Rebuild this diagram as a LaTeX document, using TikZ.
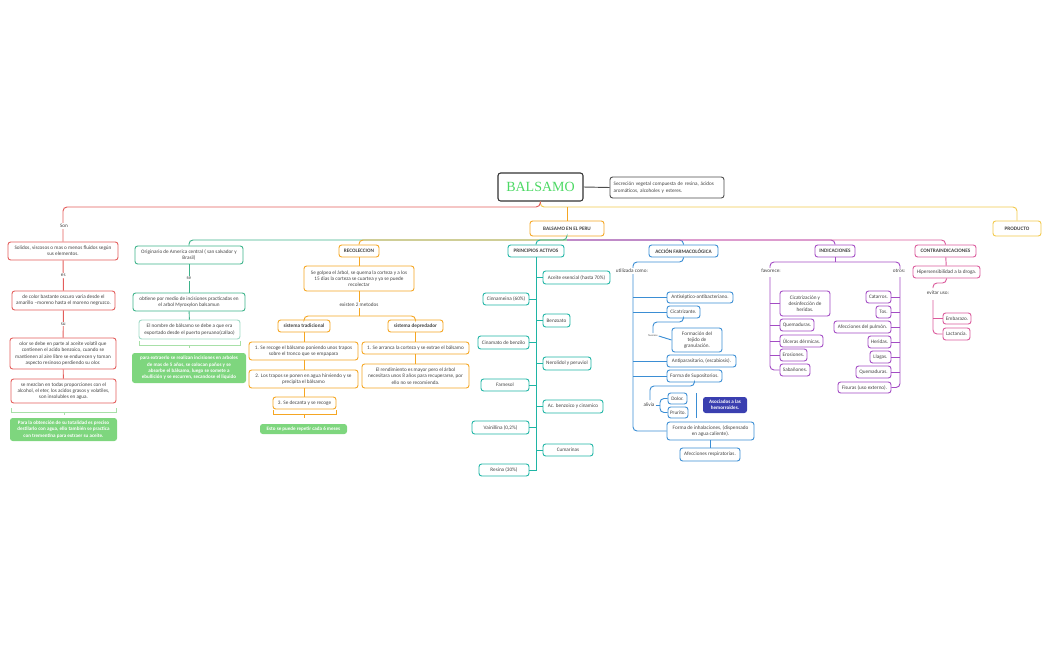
\documentclass[tikz,border=0pt]{standalone}
\usepackage{fontspec}
\setmainfont{Carlito}
\newfontfamily\serf{Liberation Serif}
\definecolor{cred}{HTML}{E35D5B}
\definecolor{cgr}{HTML}{3DB38A}
\definecolor{cor}{HTML}{F5A623}
\definecolor{ctl}{HTML}{1FB5A5}
\definecolor{cbl}{HTML}{3B8ED4}
\definecolor{cpu}{HTML}{A34CC4}
\definecolor{cpk}{HTML}{DB5B9C}
\definecolor{cye}{HTML}{F2C94C}
\definecolor{cfill}{HTML}{7ED67E}
\definecolor{clg}{HTML}{A8E0A8}
\definecolor{cdb}{HTML}{3A3FB0}
\definecolor{ctx}{HTML}{444444}
\definecolor{cbal}{HTML}{4CD964}
\newcommand\bx[7]{\node[box,draw=#6,minimum width={(#4-#2)*0.75pt},minimum height={(#5-#3)*0.75pt}] (#1) at ({(#2+#4)/2},{(#3+#5)/2}) {#7};}
\newcommand\fb[7]{\node[box,fill=#6,text=white,font=\fontsize{3.8}{4.7}\selectfont\bfseries,minimum width={(#4-#2)*0.75pt},minimum height={(#5-#3)*0.75pt}] (#1) at ({(#2+#4)/2},{(#3+#5)/2}) {#7};}
\begin{document}
\begin{tikzpicture}[x=0.75pt,y=-0.75pt,
 box/.style={rounded corners=2pt,line width=0.7pt,fill=white,align=center,inner sep=0.5pt,text=ctx,font=\fontsize{3.9}{4.7}\selectfont},
 lab/.style={fill=white,inner sep=0.6pt,text=ctx,font=\fontsize{3.9}{4.7}\selectfont},
 ln/.style={line width=0.7pt},
 rc/.style={rounded corners=3pt}]
\useasboundingbox (0,0) rectangle (1050,650);
% top
\node[box,draw=black!80,line width=0.8pt,minimum width=63.75pt,minimum height=21pt,text=cbal,font=\serf\fontsize{10.5}{12}\selectfont] (bal) at (540.5,187) {BALSAMO};
\node[box,draw=black!70,align=left,minimum width=85.5pt,minimum height=15.75pt,text width=80pt] (desc) at (667,187.5) {Secreción vegetal compuesta de resina, ácidos aromáticos, alcoholes y esteres.};
\draw[ln,black!70] (bal.east) -- (desc.west);
\coordinate (j0) at (540,207);
\coordinate (j1) at (567,240);
\bx{peru}{530}{221}{604}{236}{cor}{\bfseries BALSAMO EN EL PERU}
\bx{prod}{993}{221}{1041}{236}{cye}{\bfseries PRODUCTO}
\draw[ln,cye,rc] (bal.south) -- (j0) -| (prod.north);
\draw[ln,cor,rc] (567,207) -- (peru.north);
% column 1
\bx{a1}{8}{242}{118}{260}{cred}{Solidos, viscosos o mas o menos fluidos según\\sus elementos.}
\bx{a2}{12}{291}{115}{310}{cred}{de color bastante oscuro  varia desde el\\amarillo –moreno hasta el moreno negruzco.}
\bx{a3}{10}{338}{116}{369}{cred}{olor se debe en parte al aceite volatil que\\contienen el acido benzoico, cuando se\\mantienen al aire libre se endurecen y toman\\aspecto resinoso perdiendo su olor.}
\bx{a4}{11}{379}{116}{403}{cred}{se mezclan  en todas proporciones con el\\alcohol, el eter, los acidos grasos y volatiles,\\son insolubles en agua.}
\fb{a5}{10}{418}{117}{441}{cfill}{Para la obtención de su totalidad es preciso\\destilarlo con agua, ello también se practica\\con trementina para extraer su aceite.}
\draw[ln,cred,rc] (bal.south) -- (j0) -| (a1.north);
\node[lab] (son) at (64,226) {Son};
\draw[ln,cred] (a1) -- (a2) node[lab,midway] {es};
\draw[ln,cred] (a2) -- (a3) node[lab,midway] {su};
\draw[ln,cred] (a3) -- (a4);
\draw[ln,clg] (11,408) -- (11,412) -- (116,412) -- (116,408) (64,412) -- (64,415);
% row line
\bx{c2a}{135}{246}{243}{264}{cgr}{Originario de America central ( san salvador y\\Brasil)}
\bx{rec}{339}{245}{379}{257}{cor}{\bfseries RECOLECCION}
\bx{pa}{508}{245}{564}{257}{ctl}{\bfseries PRINCIPIOS ACTIVOS}
\bx{ac}{649}{245}{718}{257}{cbl}{\bfseries ACCIÓN FARMACOLÓGICA}
\bx{ind}{815}{245}{855}{257}{cpu}{\bfseries INDICACIONES}
\bx{con}{915}{245}{976}{257}{cpk}{\bfseries CONTRAINDICACIONES}
\draw[ln,cgr,rc] (peru.south) -- (j1) -| (c2a.north);
\draw[ln,cor,rc] (j1) -| (rec.north);
\draw[ln,ctl,rc] (j1) -| (pa.north);
\draw[ln,cbl,rc] (j1) -| (ac.north);
\draw[ln,cpu,rc] (j1) -| (ind.north);
\draw[ln,cpk,rc] (j1) -| (con.north);
% column 2
\bx{c2b}{133}{293}{245}{311}{cgr}{obtiene  por medio de incisiones practicadas en\\el arbol Myroxylon balsamun}
\bx{c2c}{139}{320}{240}{339}{cgr!50}{El nombre de bálsamo se debe a que era\\exportado desde el puerto peruano(callao)}
\fb{c2d}{132}{353}{246}{383}{cfill}{para extraerlo se  realizan incisiones en arboles\\de mas de 5 años, se colocan paños y se\\absorbe el bálsamo, luego se somete a\\ebullición y se escurren, secandose el liquido}
\draw[ln,cgr] (c2a) -- (c2b) node[lab,midway] {se};
\draw[ln,cgr] (c2b) -- (c2c);
\draw[ln,clg] (139,341) -- (139,345) -- (240,345) -- (240,341) (189,345) -- (189,348);
% column 3
\bx{r1}{304}{266}{414}{291}{cor}{Se golpea el árbol, se quema la corteza y a los\\15 dias la corteza se cuartea y ya se puede\\recolectar}
\coordinate (rj) at (359,316);
\bx{st}{278}{320}{330}{332}{cor}{\bfseries sistema tradicional}
\bx{sd}{388}{320}{443}{332}{cor}{\bfseries sistema depredador}
\bx{t1}{249}{342}{358}{360}{cor}{1. Se recoge el bálsamo poniendo unos trapos\\sobre el tronco que se empapara}
\bx{t2}{249}{370}{358}{388}{cor}{2. Los trapos se ponen en agua hirviendo y se\\precipita el bálsamo}
\bx{t3}{273}{397}{336}{409}{cor}{3. Se decanta y se recoge}
\fb{t4}{260}{424}{347}{434}{cfill}{Esto se puede repetir cada 6 meses}
\bx{d1}{362}{342}{469}{354}{cor}{1. Se arranca la corteza y se extrae el bálsamo}
\bx{d2}{362}{364}{469}{388}{cor}{El rendimiento es mayor pero el árbol\\necesitara unos 8 años para recuperarse, por\\ello no se recomienda.}
\draw[ln,cor] (rec) -- (r1);
\draw[ln,cor] (r1) -- (rj) node[lab,pos=0.55] {existen 2 metodos};
\draw[ln,cor,rc] (rj) -| (st.north);
\draw[ln,cor,rc] (rj) -| (sd.north);
\draw[ln,cor] (st) -- (t1.north -| st.south);
\draw[ln,cor] (t1.south -| st.south) -- (t2.north -| st.south);
\draw[ln,cor] (t2.south -| st.south) -- (t3.north -| st.south);
\draw[ln,cor] (sd) -- (d1.north -| sd.south);
\draw[ln,cor] (d1.south -| sd.south) -- (d2.north -| sd.south);
\draw[ln,cor] (273,410) -- (273,414) -- (336,414) -- (336,410) (304,414) -- (304,418);
% column 4
\bx{p1}{543}{271}{610}{284}{ctl}{Aceite esencial (hasta 70\%)}
\bx{p2}{543}{314}{570}{327}{ctl}{Benzoato}
\bx{p3}{543}{357}{591}{370}{ctl}{Nerolidol y peruviol}
\bx{p4}{543}{400}{603}{413}{ctl}{Ac. benzoico y cinamico}
\bx{p5}{543}{444}{593}{456}{ctl}{Cumarinas}
\bx{q1}{483}{293}{529}{305}{ctl}{Cinnameina (60\%)}
\bx{q2}{478}{336}{529}{349}{ctl}{Cinamato de benzilo}
\bx{q3}{481}{379}{529}{391}{ctl}{Farnesol}
\bx{q4}{472}{421}{529}{434}{ctl}{Vainillina (0,2\%)}
\bx{q5}{479}{464}{529}{476}{ctl}{Resina (30\%)}
\draw[ln,ctl] (pa.south) -- (q5.east -| pa.south) -- (q5.east);
\foreach \n in {p1,p2,p3,p4,p5} \draw[ln,ctl] (\n.west) -- (\n.west -| pa.south);
\foreach \n in {q1,q2,q3,q4} \draw[ln,ctl] (\n.east) -- (\n.east -| pa.south);
% column 5
\coordinate (asp) at (633,262);
\bx{e1}{667}{292}{733}{303}{cbl}{Antiséptico-antibacteriano.}
\bx{e2}{667}{306}{700}{318}{cbl}{Cicatrizante.}
\bx{e3}{672}{328}{722}{352}{cbl}{Formación del\\tejido de\\granulación.}
\bx{e4}{667}{355}{736}{367}{cbl}{Antiparasitario, (escabiosis).}
\bx{e5}{667}{370}{722}{382}{cbl}{Forma de Supositorios.}
\bx{e6}{668}{393}{687}{404}{cbl}{Dolor.}
\bx{e7}{668}{407}{688}{418}{cbl}{Prurito.}
\fb{e8}{703}{397}{747}{413}{cdb}{Asociados a las\\hemorroides.}
\bx{e9}{667}{422}{754}{440}{cbl}{Forma de inhalaciones, (dispensado\\en agua caliente).}
\bx{e10}{680}{448}{740}{461}{cbl}{Afecciones respiratorias.}
\draw[ln,cbl,rc] (ac.south) |- (asp) |- (e9.west);
\foreach \n in {e1,e2,e4,e5} \draw[ln,cbl] (\n.west) -- (\n.west -| asp);
\node[lab] at (632,271) {utilizada como:};
\draw[ln,cbl,rc] (e2.south) |- (653,322) -- (653,333);
\node[lab,font=\fontsize{2}{2}\selectfont] (fav2) at (653,336) {favorece};
\draw[ln,cbl] (fav2.east) -- (e3.west);
\draw[ln,cbl,rc] (e5.south) |- (650,386) -- (650,400);
\node[lab] (ali) at (649,405) {alivia};
\coordinate (aj) at (660,405);
\draw[ln,cbl] (ali.east) -- (aj);
\draw[ln,cbl,rc] (aj) |- (e6.west);
\draw[ln,cbl,rc] (aj) |- (e7.west);
\draw[ln,cbl] (696,393) -- (696,418);
\draw[ln,cbl] (e9) -- (e10.north -| e9.south);
% column 6
\coordinate (ijl) at (770,262);
\coordinate (ijr) at (900,262);
\draw[ln,cpu,rc] (ind.south) -- (835,262);
\draw[ln,cpu,rc] (770,270) -- (ijl) -- (ijr) -- (900,270);
\node[lab] (fv) at (771,271) {favorece:};
\node[lab] (ot) at (899,271) {otros:};
\bx{i1}{780}{291}{830}{316}{cpu}{Cicatrización y\\desinfección de\\heridas.}
\bx{i2}{780}{319}{814}{331}{cpu}{Quemaduras.}
\bx{i3}{780}{335}{823}{347}{cpu}{Úlceras dérmicas.}
\bx{i4}{780}{349}{807}{361}{cpu}{Erosiones.}
\bx{i5}{780}{364}{810}{376}{cpu}{Sabañones.}
\bx{o1}{866}{291}{891}{303}{cpu}{Catarros.}
\bx{o2}{876}{306}{891}{318}{cpu}{Tos.}
\bx{o3}{834}{321}{891}{333}{cpu}{Afecciones del pulmón.}
\bx{o4}{868}{336}{891}{348}{cpu}{Heridas.}
\bx{o5}{870}{351}{891}{363}{cpu}{Llagas.}
\bx{o6}{856}{366}{891}{378}{cpu}{Quemaduras.}
\bx{o7}{838}{382}{891}{393}{cpu}{Fisuras (uso externo).}
\draw[ln,cpu,rc] (770,277) |- (i5.west);
\draw[ln,cpu,rc] (900,277) |- (o7.east);
\foreach \n in {i1,i2,i3,i4} \draw[ln,cpu] (\n.west) -- (\n.west -| ijl);
\foreach \n in {o1,o2,o3,o4,o5,o6} \draw[ln,cpu] (\n.east) -- (\n.east -| ijr);
% column 7
\bx{h1}{913}{266}{980}{278}{cpk}{Hipersensibilidad a la droga.}
\bx{h2}{943}{313}{971}{324}{cpk}{Embarazo.}
\bx{h3}{943}{328}{970}{340}{cpk}{Lactancia.}
\coordinate (hj) at (933,300);
\draw[ln,cpk] (con) -- (h1);
\draw[ln,cpk,rc] (h1.south) |- (933,283) -- (933,288);
\node[lab] at (938,293) {evitar uso:};
\draw[ln,cpk,rc] (hj) |- (h3.west);
\draw[ln,cpk] (h2.west) -- (h2.west -| hj);
\end{tikzpicture}
\end{document}
